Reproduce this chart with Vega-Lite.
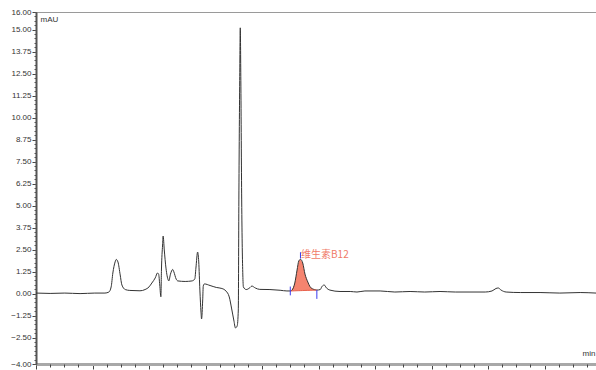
{
  "$schema": "https://vega.github.io/schema/vega-lite/v6.json",
  "width": 560,
  "height": 352,
  "autosize": {"type": "none"},
  "padding": {"left": 36, "top": 12, "right": 0, "bottom": 6},
  "background": "white",
  "config": {
    "view": {"stroke": "#9a9a9a", "strokeWidth": 1},
    "font": "Liberation Sans"
  },
  "datasets": {
    "trace": [
      {"t": 0.00, "v": 0.03}, {"t": 0.25, "v": 0.01}, {"t": 0.51, "v": 0.03}, {"t": 0.78, "v": 0.0},
      {"t": 1.04, "v": 0.03}, {"t": 1.22, "v": 0.03}, {"t": 1.29, "v": 0.09}, {"t": 1.33, "v": 0.38},
      {"t": 1.36, "v": 1.17}, {"t": 1.40, "v": 1.8}, {"t": 1.42, "v": 1.94}, {"t": 1.45, "v": 1.8},
      {"t": 1.49, "v": 1.06}, {"t": 1.52, "v": 0.49}, {"t": 1.58, "v": 0.23}, {"t": 1.66, "v": 0.18},
      {"t": 1.84, "v": 0.16}, {"t": 1.93, "v": 0.23}, {"t": 2.00, "v": 0.38}, {"t": 2.05, "v": 0.6},
      {"t": 2.11, "v": 0.89}, {"t": 2.15, "v": 1.17}, {"t": 2.17, "v": 1.11}, {"t": 2.19, "v": 0.49},
      {"t": 2.21, "v": -0.18}, {"t": 2.22, "v": 1.34}, {"t": 2.24, "v": 2.76}, {"t": 2.25, "v": 3.27},
      {"t": 2.27, "v": 2.48}, {"t": 2.30, "v": 1.45}, {"t": 2.34, "v": 0.77}, {"t": 2.35, "v": 0.72},
      {"t": 2.38, "v": 1.11}, {"t": 2.42, "v": 1.37}, {"t": 2.44, "v": 1.23}, {"t": 2.48, "v": 0.83},
      {"t": 2.51, "v": 0.72}, {"t": 2.64, "v": 0.69}, {"t": 2.76, "v": 0.72}, {"t": 2.81, "v": 0.83},
      {"t": 2.83, "v": 1.45}, {"t": 2.86, "v": 2.36}, {"t": 2.88, "v": 1.8}, {"t": 2.90, "v": 0.2},
      {"t": 2.92, "v": -1.05}, {"t": 2.93, "v": -1.44}, {"t": 2.95, "v": -0.36}, {"t": 2.96, "v": 0.43},
      {"t": 2.98, "v": 0.55}, {"t": 3.08, "v": 0.46}, {"t": 3.19, "v": 0.35}, {"t": 3.29, "v": 0.29},
      {"t": 3.36, "v": 0.15}, {"t": 3.42, "v": -0.19}, {"t": 3.46, "v": -0.82}, {"t": 3.50, "v": -1.5},
      {"t": 3.53, "v": -1.95}, {"t": 3.56, "v": -1.84}, {"t": 3.58, "v": -0.93}, {"t": 3.59, "v": 5.32},
      {"t": 3.605, "v": 12.1}, {"t": 3.615, "v": 15.1}, {"t": 3.625, "v": 12.1}, {"t": 3.64, "v": 5.32},
      {"t": 3.66, "v": 1.06}, {"t": 3.67, "v": 0.38}, {"t": 3.72, "v": 0.23}, {"t": 3.79, "v": 0.35},
      {"t": 3.82, "v": 0.43}, {"t": 3.88, "v": 0.32}, {"t": 3.96, "v": 0.24}, {"t": 4.14, "v": 0.23},
      {"t": 4.32, "v": 0.19}, {"t": 4.44, "v": 0.15}, {"t": 4.50, "v": 0.15}, {"t": 4.53, "v": 0.2},
      {"t": 4.58, "v": 0.6}, {"t": 4.62, "v": 1.34}, {"t": 4.65, "v": 1.85}, {"t": 4.68, "v": 1.95},
      {"t": 4.72, "v": 1.74}, {"t": 4.76, "v": 1.11}, {"t": 4.81, "v": 0.66}, {"t": 4.85, "v": 0.39},
      {"t": 4.90, "v": 0.26}, {"t": 4.97, "v": 0.2}, {"t": 5.03, "v": 0.23}, {"t": 5.06, "v": 0.4},
      {"t": 5.10, "v": 0.49}, {"t": 5.14, "v": 0.32}, {"t": 5.20, "v": 0.2}, {"t": 5.38, "v": 0.12},
      {"t": 5.56, "v": 0.12}, {"t": 5.68, "v": 0.09}, {"t": 5.82, "v": 0.15}, {"t": 6.09, "v": 0.15},
      {"t": 6.35, "v": 0.09}, {"t": 6.62, "v": 0.12}, {"t": 6.88, "v": 0.09}, {"t": 7.15, "v": 0.12},
      {"t": 7.42, "v": 0.09}, {"t": 7.68, "v": 0.09}, {"t": 7.95, "v": 0.09}, {"t": 8.07, "v": 0.15},
      {"t": 8.14, "v": 0.29}, {"t": 8.18, "v": 0.32}, {"t": 8.23, "v": 0.2}, {"t": 8.32, "v": 0.09},
      {"t": 8.57, "v": 0.06}, {"t": 8.92, "v": 0.06}, {"t": 9.27, "v": 0.03}, {"t": 9.63, "v": 0.06},
      {"t": 9.91, "v": 0.03}
    ],
    "peak": [
      {"t": 4.50, "v": 0.15, "b": 0.15}, {"t": 4.53, "v": 0.2, "b": 0.153}, {"t": 4.58, "v": 0.6, "b": 0.158},
      {"t": 4.62, "v": 1.34, "b": 0.163}, {"t": 4.65, "v": 1.85, "b": 0.166}, {"t": 4.68, "v": 1.95, "b": 0.169},
      {"t": 4.72, "v": 1.74, "b": 0.173}, {"t": 4.76, "v": 1.11, "b": 0.178}, {"t": 4.81, "v": 0.66, "b": 0.183},
      {"t": 4.85, "v": 0.39, "b": 0.187}, {"t": 4.90, "v": 0.26, "b": 0.193}, {"t": 4.97, "v": 0.2, "b": 0.2}
    ],
    "marks": [
      {"t": 4.50, "lo": -0.1, "hi": 0.4},
      {"t": 4.68, "lo": 2.0, "hi": 2.35},
      {"t": 4.97, "lo": -0.3, "hi": 0.2}
    ],
    "label": [
      {"t": 4.69, "v": 2.2, "name": "维生素B12"}
    ]
  },
  "resolve": {"axis": {"x": "independent", "y": "independent"}},
  "layer": [
    {
      "data": {"name": "peak"},
      "mark": {"type": "area", "color": "#f5846f", "opacity": 1},
      "encoding": {
        "x": {"field": "t", "type": "quantitative", "scale": {"domain": [0, 9.91], "nice": false, "zero": false}, "axis": null},
        "y": {"field": "v", "type": "quantitative", "scale": {"domain": [-4, 16], "nice": false, "zero": false}, "axis": null},
        "y2": {"field": "b"}
      }
    },
    {
      "data": {"name": "trace"},
      "mark": {"type": "line", "color": "#333333", "strokeWidth": 1, "interpolate": "monotone"},
      "encoding": {
        "x": {
          "field": "t", "type": "quantitative",
          "axis": {
            "orient": "bottom",
            "values": [0, 1, 2, 3, 4, 5, 6, 7, 8, 9],
            "format": ".1f",
            "title": "min",
            "titleX": 559, "titleY": -11, "titleAlign": "right", "titleBaseline": "middle",
            "titleFont": "Liberation Sans", "titleFontSize": 8, "titleFontWeight": "normal", "titleColor": "#333",
            "labelFont": "Liberation Sans", "labelFontSize": 8, "labelColor": "#333",
            "labelPadding": 1,
            "domainColor": "#a8a8a8", "domainWidth": 3,
            "tickColor": "#444", "tickSize": 5, "tickWidth": 1,
            "grid": false
          }
        },
        "y": {
          "field": "v", "type": "quantitative",
          "axis": {
            "orient": "left",
            "values": [-4, -2.5, -1.25, 0, 1.25, 2.5, 3.75, 5, 6.25, 7.5, 8.75, 10, 11.25, 12.5, 13.75, 15, 16],
            "format": ".2f",
            "title": "mAU",
            "titleAngle": 0, "titleX": 4, "titleY": 7, "titleAlign": "left", "titleBaseline": "middle",
            "titleFont": "Liberation Sans", "titleFontSize": 8, "titleFontWeight": "normal", "titleColor": "#333",
            "labelFont": "Liberation Sans", "labelFontSize": 8, "labelColor": "#333",
            "labelPadding": 1,
            "domainColor": "#555", "domainWidth": 2,
            "tickColor": "#444", "tickSize": 4, "tickWidth": 1,
            "grid": false
          }
        }
      }
    },
    {
      "data": {"name": "peak"},
      "mark": {"type": "line", "color": "#e8604c", "strokeWidth": 1},
      "encoding": {
        "x": {"field": "t", "type": "quantitative", "axis": null},
        "y": {"field": "b", "type": "quantitative", "axis": null}
      }
    },
    {
      "data": {"name": "marks"},
      "mark": {"type": "rule", "color": "#3a3af0", "strokeWidth": 1},
      "encoding": {
        "x": {
          "field": "t", "type": "quantitative",
          "axis": {
            "orient": "bottom",
            "values": [0.25, 0.5, 0.75, 1.25, 1.5, 1.75, 2.25, 2.5, 2.75, 3.25, 3.5, 3.75, 4.25, 4.5, 4.75, 5.25, 5.5, 5.75, 6.25, 6.5, 6.75, 7.25, 7.5, 7.75, 8.25, 8.5, 8.75, 9.25, 9.5, 9.75],
            "labels": false, "domain": false, "title": null, "grid": false,
            "tickColor": "#444", "tickSize": 3, "tickWidth": 1
          }
        },
        "y": {
          "field": "lo", "type": "quantitative",
          "axis": {
            "orient": "left",
            "values": [-4, -3.75, -3.5, -3.25, -3, -2.75, -2.5, -2.25, -2, -1.75, -1.5, -1.25, -1, -0.75, -0.5, -0.25, 0, 0.25, 0.5, 0.75, 1, 1.25, 1.5, 1.75, 2, 2.25, 2.5, 2.75, 3, 3.25, 3.5, 3.75, 4, 4.25, 4.5, 4.75, 5, 5.25, 5.5, 5.75, 6, 6.25, 6.5, 6.75, 7, 7.25, 7.5, 7.75, 8, 8.25, 8.5, 8.75, 9, 9.25, 9.5, 9.75, 10, 10.25, 10.5, 10.75, 11, 11.25, 11.5, 11.75, 12, 12.25, 12.5, 12.75, 13, 13.25, 13.5, 13.75, 14, 14.25, 14.5, 14.75, 15, 15.25, 15.5, 15.75, 16],
            "labels": false, "domain": false, "title": null, "grid": false,
            "tickColor": "#555", "tickSize": 2, "tickWidth": 1
          }
        },
        "y2": {"field": "hi"}
      }
    },
    {
      "data": {"name": "label"},
      "mark": {"type": "text", "color": "#f07a68", "font": "Noto Sans CJK SC", "fontSize": 10, "align": "left", "baseline": "middle"},
      "encoding": {
        "x": {"field": "t", "type": "quantitative", "axis": null},
        "y": {"field": "v", "type": "quantitative", "axis": null},
        "text": {"field": "name"}
      }
    }
  ]
}
